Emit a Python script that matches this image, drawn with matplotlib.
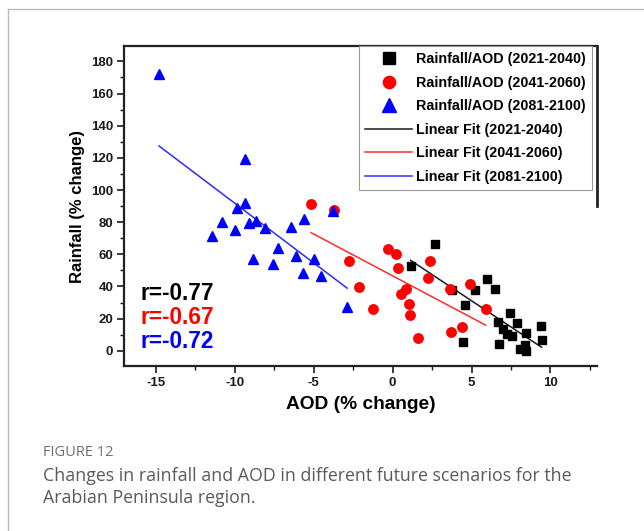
import numpy as np
import matplotlib.pyplot as plt
from matplotlib.lines import Line2D
from matplotlib.ticker import MultipleLocator

# Rainfall/AOD (2021-2040)
aod_2021 = [2.67, 3.77, 5.21, 6.01, 6.46, 4.57, 7.43, 7.89, 6.69, 7.00, 7.26,
            7.54, 8.44, 9.38, 9.44, 4.47, 6.75, 8.06, 8.44, 8.38, 1.14]
rain_2021 = [66.7, 38.0, 37.6, 44.9, 38.2, 28.4, 23.7, 17.2, 17.6, 13.3, 10.6,
             9.1, 11.0, 15.3, 6.4, 5.6, 4.1, 1.0, -0.2, 3.3, 52.7]

# Rainfall/AOD (2041-2060)
aod_2041 = [-5.16, -3.72, -2.79, -2.16, -1.23, -0.30, 0.23, 0.36, 0.83, 0.53,
            1.02, 1.10, 1.63, 2.35, 2.27, 3.66, 4.89, 5.90, 3.68, 4.40]
rain_2041 = [91.2, 87.8, 55.8, 39.6, 25.9, 63.1, 60.0, 51.7, 38.4, 35.1,
             28.8, 22.2, 8.1, 55.8, 45.5, 38.2, 41.3, 25.9, 11.6, 15.0]

# Rainfall/AOD (2081-2100)
aod_2081 = [-14.8, -9.35, -9.33, -9.86, -10.84, -11.47, -9.97, -9.08, -8.65,
            -8.11, -6.43, -5.59, -3.79, -7.28, -6.11, -5.00, -8.83, -7.60,
            -5.69, -4.53, -2.88]
rain_2081 = [172.2, 119.0, 92.0, 88.5, 80.4, 71.2, 75.4, 79.5, 81.0,
             76.6, 77.0, 81.8, 87.0, 63.9, 59.2, 57.3, 56.9, 53.8,
             48.4, 46.3, 27.2]

periods = ["2021-2040", "2041-2060", "2081-2100"]
r_values = ["-0.77", "-0.67", "-0.72"]

plt.rcParams["font.family"] = ["Liberation Sans", "DejaVu Sans"]
plt.rcParams["font.weight"] = "bold"
plt.rcParams["axes.unicode_minus"] = False

fig = plt.figure(figsize=(6.44, 5.31), dpi=100)
ax = fig.add_axes([0.193, 0.3107, 0.734, 0.6027])

series = [
    (aod_2021, rain_2021, "s", "#000000", "#1a1a1a", 6.1),
    (aod_2041, rain_2041, "o", "#ff0000", "#ff2a2a", 6.8),
    (aod_2081, rain_2081, "^", "#0000ff", "#2b2bff", 7.4),
]

point_handles = []
line_handles = []
for (x, y, mk, col, lcol, ms), per in zip(series, periods):
    x = np.asarray(x)
    y = np.asarray(y)
    h, = ax.plot(x, y, mk, color=col, ms=ms, mec=col, linestyle="none",
                 label=f"Rainfall/AOD ({per})", zorder=3)
    point_handles.append(h)
    k, b = np.polyfit(x, y, 1)
    xs = np.array([x.min(), x.max()])
    l, = ax.plot(xs, k * xs + b, color=lcol, lw=1.1,
                 label=f"Linear Fit ({per})", zorder=2)
    line_handles.append(l)

ax.set_xlim(-17.0, 12.95)
ax.set_ylim(-9.5, 189.6)
ax.xaxis.set_major_locator(MultipleLocator(5))
ax.xaxis.set_minor_locator(MultipleLocator(2.5))
ax.yaxis.set_major_locator(MultipleLocator(20))
ax.yaxis.set_minor_locator(MultipleLocator(10))
ax.tick_params(which="major", direction="out", length=5, width=1.2,
               labelsize=9.5, colors="#1a1a1a", pad=3)
ax.tick_params(which="minor", direction="out", length=3, width=1.0,
               colors="#1a1a1a")
for lab in ax.get_xticklabels() + ax.get_yticklabels():
    lab.set_fontweight("bold")

for side in ["left", "bottom", "top", "right"]:
    ax.spines[side].set_linewidth(1.6)
    ax.spines[side].set_color("#222222")
ax.spines["right"].set_linewidth(2.0)
ax.spines["right"].set_bounds(90, 189.6)

ax.set_xlabel("AOD (% change)", fontsize=13.8, fontweight="bold", labelpad=5)
ax.set_ylabel("Rainfall (% change)", fontsize=12, fontweight="bold", labelpad=4)

r_colors = ["#000000", "#ff0000", "#0000ff"]
for i, (rv, c) in enumerate(zip(r_values, r_colors)):
    ax.text(-15.96, 35.9 - i * 15.0, f"r={rv}", color=c, fontsize=16.3,
            fontweight="bold", va="center", ha="left")

leg = ax.legend(handles=point_handles + line_handles, loc="upper right",
                bbox_to_anchor=(0.99, 1.0), fontsize=10.3, frameon=True,
                fancybox=False, edgecolor="#999999", framealpha=1,
                handlelength=3.3, handletextpad=0.25, labelspacing=0.66,
                borderpad=0.45, markerscale=1.3, borderaxespad=0)
leg.get_frame().set_linewidth(0.8)
for t in leg.get_texts():
    t.set_fontweight("bold")

# page frame and caption
fig.add_artist(Line2D([8 / 644, 8 / 644], [0, 1 - 9 / 531],
                      transform=fig.transFigure, color="#bbbbbb", lw=1))
fig.add_artist(Line2D([8 / 644, 1], [1 - 9 / 531, 1 - 9 / 531],
                      transform=fig.transFigure, color="#bbbbbb", lw=1))
fig.text(43 / 644, 1 - 452 / 531, "FIGURE 12", fontsize=10.5, color="#6e6e6e",
         family=["Open Sans", "DejaVu Sans"], fontweight="normal", va="center")
fig.text(43 / 644, 1 - 476 / 531,
         "Changes in rainfall and AOD in different future scenarios for the",
         fontsize=12.8, color="#5a5a5a", family=["Open Sans", "DejaVu Sans"],
         fontweight="normal", va="center")
fig.text(43 / 644, 1 - 498 / 531, "Arabian Peninsula region.",
         fontsize=12.8, color="#5a5a5a", family=["Open Sans", "DejaVu Sans"],
         fontweight="normal", va="center")

fig.savefig("out.png", dpi=100)
